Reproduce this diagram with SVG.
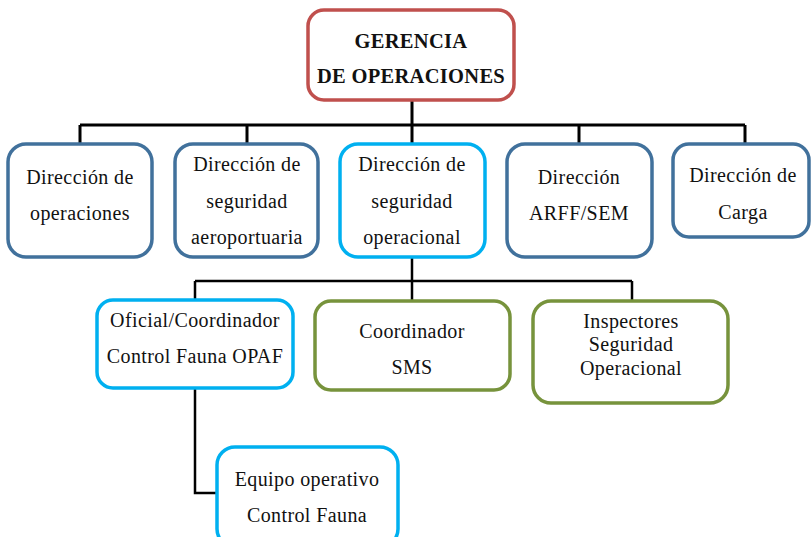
<svg xmlns="http://www.w3.org/2000/svg" width="811" height="537" viewBox="0 0 811 537">
<style>
.box{fill:#fff;stroke-width:3.5}
.red{stroke:#c0504d}
.blue{stroke:#41719c}
.cyan{stroke:#00b0f0}
.green{stroke:#77933c}
text{font-family:'Liberation Serif','DejaVu Serif',serif;font-size:20px;letter-spacing:0.4px;fill:#111;text-anchor:middle;dominant-baseline:central}
.b{font-weight:bold;font-size:20.5px;letter-spacing:0.3px}
.c{fill:none;stroke:#000;stroke-width:2.5}
</style>
<rect width="811" height="537" fill="#fff"/>
<g id="connectors">
<path class="c" d="M412 100V125M80 125H745M80 125V143M247 125V143M412 125V143M579 125V143M745 125V143" style="stroke-width:3"/>
<path class="c" d="M412 257V281M195 281H632M195 281V300M412 281V300M632 281V300"/>
<path class="c" d="M195 388V493H217"/>
</g>
<g id="gerencia">
<rect class="box red" x="308" y="10" width="206" height="90" rx="16"/>
<text class="b" x="411" y="41">GERENCIA</text>
<text class="b" x="411" y="76">DE OPERACIONES</text>
</g>
<g id="dir-operaciones">
<rect class="box blue" x="8" y="144" width="144" height="113" rx="18"/>
<text x="80" y="177">Dirección de</text>
<text x="80" y="213">operaciones</text>
</g>
<g id="dir-seg-aero">
<rect class="box blue" x="175" y="144" width="143" height="113" rx="18"/>
<text x="247" y="164">Dirección de</text>
<text x="247" y="201">seguridad</text>
<text x="247" y="237">aeroportuaria</text>
</g>
<g id="dir-seg-oper">
<rect class="box cyan" x="340" y="144" width="145" height="113" rx="18"/>
<text x="412" y="164">Dirección de</text>
<text x="412" y="201">seguridad</text>
<text x="412" y="237">operacional</text>
</g>
<g id="dir-arff">
<rect class="box blue" x="507" y="144" width="145" height="113" rx="18"/>
<text x="579" y="177">Dirección</text>
<text x="579" y="213">ARFF/SEM</text>
</g>
<g id="dir-carga">
<rect class="box blue" x="673" y="144" width="136" height="93" rx="16"/>
<text x="743" y="175">Dirección de</text>
<text x="743" y="212">Carga</text>
</g>
<g id="oficial">
<rect class="box cyan" x="97" y="300" width="196" height="88" rx="16"/>
<text x="195" y="320">Oficial/Coordinador</text>
<text x="195" y="356">Control Fauna OPAF</text>
</g>
<g id="coord-sms">
<rect class="box green" x="315" y="301" width="195" height="89" rx="16"/>
<text x="412" y="331">Coordinador</text>
<text x="412" y="367">SMS</text>
</g>
<g id="inspectores">
<rect class="box green" x="533" y="301" width="195" height="102" rx="18"/>
<text x="631" y="321">Inspectores</text>
<text x="631" y="344">Seguridad</text>
<text x="631" y="368">Operacional</text>
</g>
<g id="equipo">
<rect class="box cyan" x="217" y="447" width="181" height="100" rx="18"/>
<text x="307" y="479">Equipo operativo</text>
<text x="307" y="515">Control Fauna</text>
</g>
</svg>
